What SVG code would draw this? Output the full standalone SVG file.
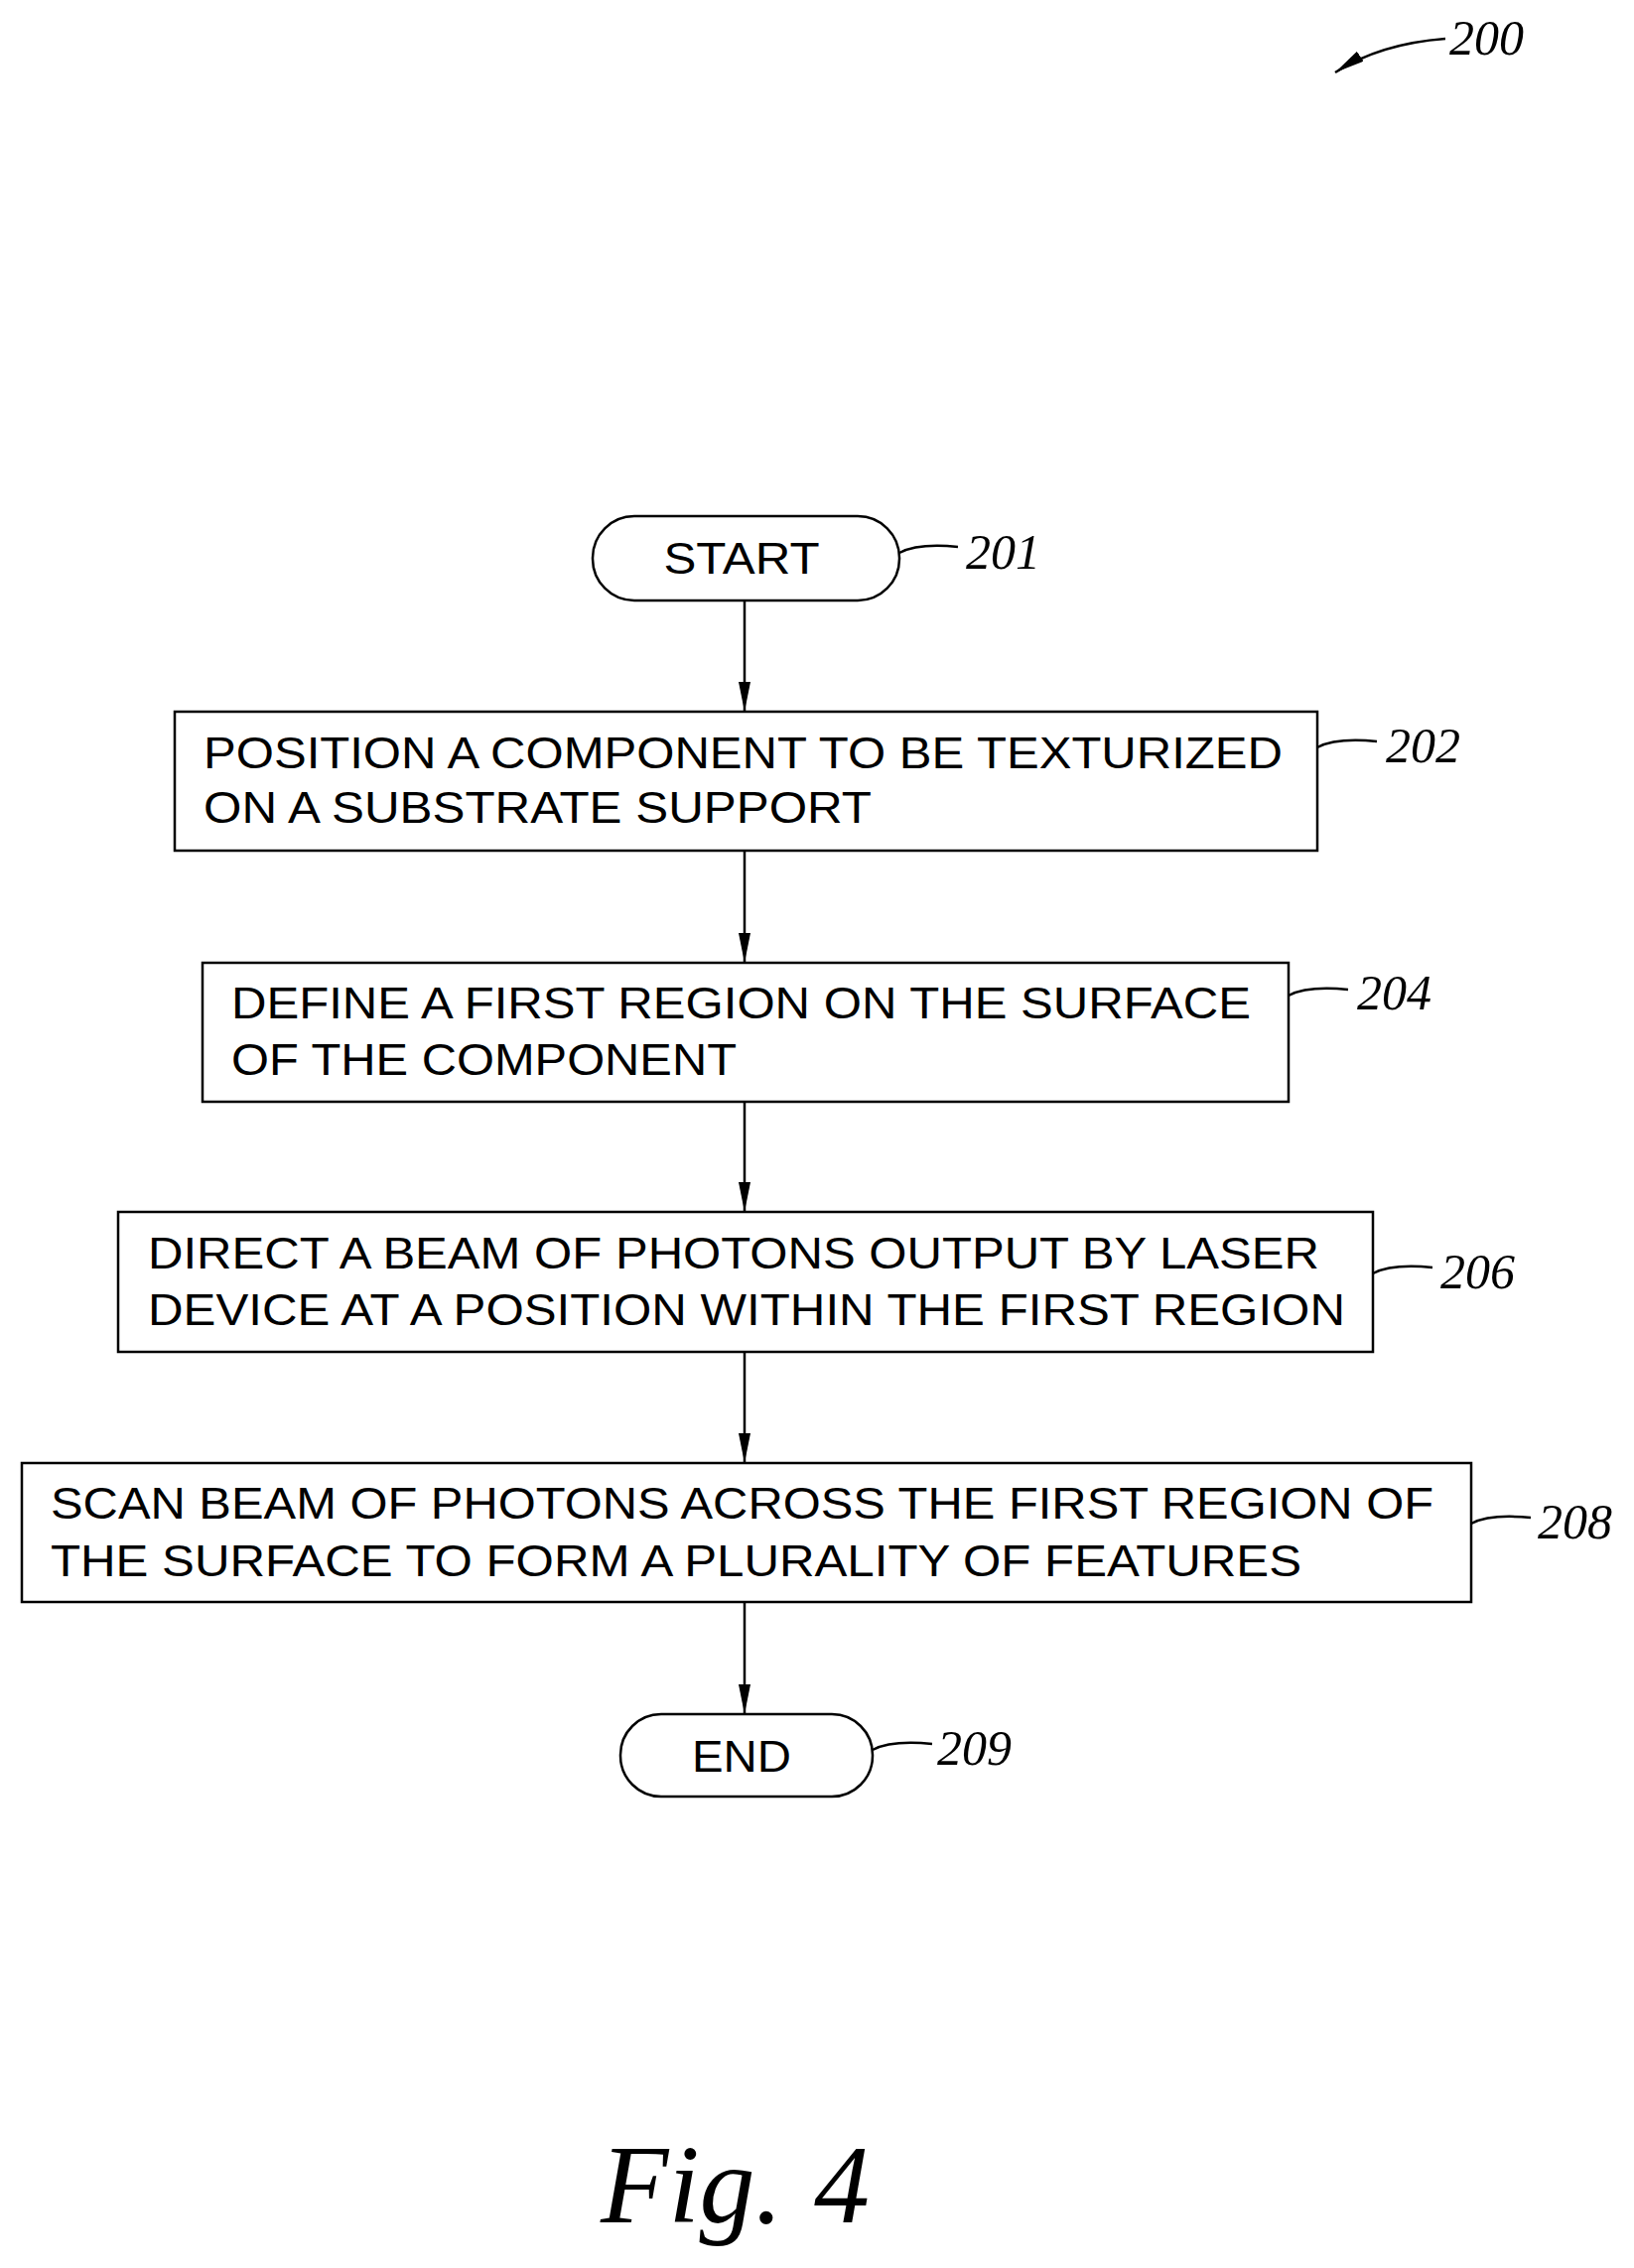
<svg xmlns="http://www.w3.org/2000/svg" width="1646" height="2285" viewBox="0 0 1646 2285">
<style>
.b{fill:#fff;stroke:#000;stroke-width:2.5}
.t{font-family:"Liberation Sans",Arial,sans-serif;font-size:44px;fill:#000}
.n{font-family:"Liberation Serif","Times New Roman",serif;font-style:italic;font-size:50px;fill:#000}
.l{fill:none;stroke:#000;stroke-width:2.5}
</style>
<defs><marker id="a" markerWidth="30" markerHeight="12" refX="30" refY="6" orient="auto" markerUnits="userSpaceOnUse" viewBox="0 0 30 12"><path d="M0,0 L30,6 L0,12 Z" fill="#000"/></marker></defs>
<rect width="1646" height="2285" fill="#fff"/>
<g id="connectors">
<line class="l" x1="750" y1="605" x2="750" y2="717" marker-end="url(#a)"/>
<line class="l" x1="750" y1="857" x2="750" y2="970" marker-end="url(#a)"/>
<line class="l" x1="750" y1="1110" x2="750" y2="1221" marker-end="url(#a)"/>
<line class="l" x1="750" y1="1362" x2="750" y2="1474" marker-end="url(#a)"/>
<line class="l" x1="750" y1="1614" x2="750" y2="1727" marker-end="url(#a)"/>
</g>
<g id="n200"><text class="n" x="1460" y="55">200</text><path class="l" d="M1456,39 Q1390,44 1345,73" marker-end="url(#a)"/></g>
<g id="n201"><rect class="b" x="597" y="520" width="309" height="85" rx="42"/><text class="t" x="747" y="578" text-anchor="middle" textLength="157" lengthAdjust="spacingAndGlyphs">START</text><path class="l" d="M906,557 Q925,547 965,551"/><text class="n" x="973" y="573">201</text></g>
<g id="n202"><rect class="b" x="176" y="717" width="1151" height="140"/><text class="t" x="205" y="774" textLength="1087" lengthAdjust="spacingAndGlyphs">POSITION A COMPONENT TO BE TEXTURIZED</text><text class="t" x="205" y="829" textLength="673" lengthAdjust="spacingAndGlyphs">ON A SUBSTRATE SUPPORT</text><path class="l" d="M1327,753 Q1346,743 1387,747"/><text class="n" x="1396" y="768">202</text></g>
<g id="n204"><rect class="b" x="204" y="970" width="1094" height="140"/><text class="t" x="233" y="1026" textLength="1027" lengthAdjust="spacingAndGlyphs">DEFINE A FIRST REGION ON THE SURFACE</text><text class="t" x="233" y="1083" textLength="509" lengthAdjust="spacingAndGlyphs">OF THE COMPONENT</text><path class="l" d="M1298,1003 Q1317,993 1358,997"/><text class="n" x="1367" y="1017">204</text></g>
<g id="n206"><rect class="b" x="119" y="1221" width="1264" height="141"/><text class="t" x="149" y="1278" textLength="1180" lengthAdjust="spacingAndGlyphs">DIRECT A BEAM OF PHOTONS OUTPUT BY LASER</text><text class="t" x="149" y="1335" textLength="1206" lengthAdjust="spacingAndGlyphs">DEVICE AT A POSITION WITHIN THE FIRST REGION</text><path class="l" d="M1383,1283 Q1402,1273 1443,1277"/><text class="n" x="1451" y="1298">206</text></g>
<g id="n208"><rect class="b" x="22" y="1474" width="1460" height="140"/><text class="t" x="51" y="1530" textLength="1393" lengthAdjust="spacingAndGlyphs">SCAN BEAM OF PHOTONS ACROSS THE FIRST REGION OF</text><text class="t" x="51" y="1588" textLength="1260" lengthAdjust="spacingAndGlyphs">THE SURFACE TO FORM A PLURALITY OF FEATURES</text><path class="l" d="M1482,1535 Q1501,1525 1542,1529"/><text class="n" x="1549" y="1550">208</text></g>
<g id="n209"><rect class="b" x="625" y="1727" width="254" height="83" rx="41"/><text class="t" x="747" y="1785" text-anchor="middle" textLength="100" lengthAdjust="spacingAndGlyphs">END</text><path class="l" d="M879,1763 Q898,1753 939,1757"/><text class="n" x="944" y="1778">209</text></g>
<g id="fig"><text class="n" x="605" y="2239" style="font-size:112px">Fig.</text><text class="n" x="820" y="2239" style="font-size:112px">4</text></g>
</svg>
